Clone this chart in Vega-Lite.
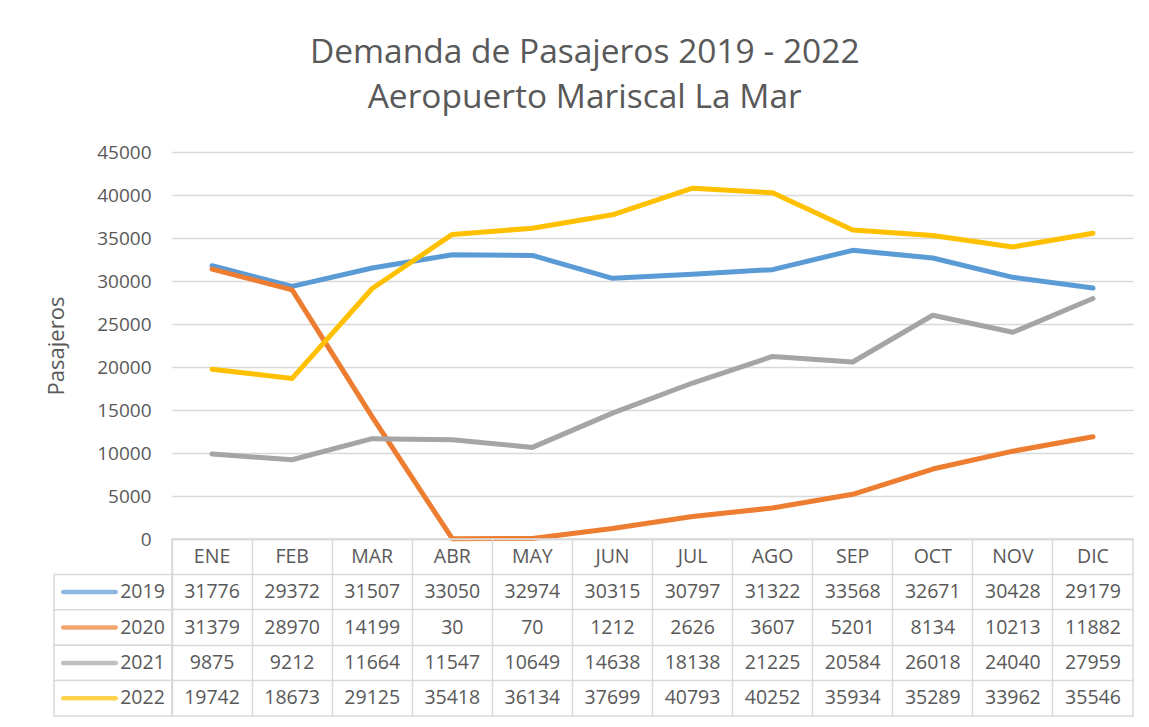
{
  "$schema": "https://vega.github.io/schema/vega-lite/v6.json",
  "padding": {"left": 45, "top": 35, "right": 17, "bottom": 5},
  "background": "white",
  "title": {
    "text": ["Demanda de Pasajeros 2019 - 2022", "Aeropuerto Mariscal La Mar"],
    "fontSize": 33.5, "lineHeight": 45, "font": "Open Sans", "fontWeight": "normal",
    "color": "#595959", "anchor": "middle", "offset": 28, "dx": -5
  },
  "datasets": {
    "pax": [
      {"anio": "2019", "mes": "ENE", "pasajeros": 31776},
      {"anio": "2019", "mes": "FEB", "pasajeros": 29372},
      {"anio": "2019", "mes": "MAR", "pasajeros": 31507},
      {"anio": "2019", "mes": "ABR", "pasajeros": 33050},
      {"anio": "2019", "mes": "MAY", "pasajeros": 32974},
      {"anio": "2019", "mes": "JUN", "pasajeros": 30315},
      {"anio": "2019", "mes": "JUL", "pasajeros": 30797},
      {"anio": "2019", "mes": "AGO", "pasajeros": 31322},
      {"anio": "2019", "mes": "SEP", "pasajeros": 33568},
      {"anio": "2019", "mes": "OCT", "pasajeros": 32671},
      {"anio": "2019", "mes": "NOV", "pasajeros": 30428},
      {"anio": "2019", "mes": "DIC", "pasajeros": 29179},
      {"anio": "2020", "mes": "ENE", "pasajeros": 31379},
      {"anio": "2020", "mes": "FEB", "pasajeros": 28970},
      {"anio": "2020", "mes": "MAR", "pasajeros": 14199},
      {"anio": "2020", "mes": "ABR", "pasajeros": 30},
      {"anio": "2020", "mes": "MAY", "pasajeros": 70},
      {"anio": "2020", "mes": "JUN", "pasajeros": 1212},
      {"anio": "2020", "mes": "JUL", "pasajeros": 2626},
      {"anio": "2020", "mes": "AGO", "pasajeros": 3607},
      {"anio": "2020", "mes": "SEP", "pasajeros": 5201},
      {"anio": "2020", "mes": "OCT", "pasajeros": 8134},
      {"anio": "2020", "mes": "NOV", "pasajeros": 10213},
      {"anio": "2020", "mes": "DIC", "pasajeros": 11882},
      {"anio": "2021", "mes": "ENE", "pasajeros": 9875},
      {"anio": "2021", "mes": "FEB", "pasajeros": 9212},
      {"anio": "2021", "mes": "MAR", "pasajeros": 11664},
      {"anio": "2021", "mes": "ABR", "pasajeros": 11547},
      {"anio": "2021", "mes": "MAY", "pasajeros": 10649},
      {"anio": "2021", "mes": "JUN", "pasajeros": 14638},
      {"anio": "2021", "mes": "JUL", "pasajeros": 18138},
      {"anio": "2021", "mes": "AGO", "pasajeros": 21225},
      {"anio": "2021", "mes": "SEP", "pasajeros": 20584},
      {"anio": "2021", "mes": "OCT", "pasajeros": 26018},
      {"anio": "2021", "mes": "NOV", "pasajeros": 24040},
      {"anio": "2021", "mes": "DIC", "pasajeros": 27959},
      {"anio": "2022", "mes": "ENE", "pasajeros": 19742},
      {"anio": "2022", "mes": "FEB", "pasajeros": 18673},
      {"anio": "2022", "mes": "MAR", "pasajeros": 29125},
      {"anio": "2022", "mes": "ABR", "pasajeros": 35418},
      {"anio": "2022", "mes": "MAY", "pasajeros": 36134},
      {"anio": "2022", "mes": "JUN", "pasajeros": 37699},
      {"anio": "2022", "mes": "JUL", "pasajeros": 40793},
      {"anio": "2022", "mes": "AGO", "pasajeros": 40252},
      {"anio": "2022", "mes": "SEP", "pasajeros": 35934},
      {"anio": "2022", "mes": "OCT", "pasajeros": 35289},
      {"anio": "2022", "mes": "NOV", "pasajeros": 33962},
      {"anio": "2022", "mes": "DIC", "pasajeros": 35546}
    ],
    "months": [
      {"mes": "ENE"}, {"mes": "FEB"}, {"mes": "MAR"}, {"mes": "ABR"}, {"mes": "MAY"}, {"mes": "JUN"},
      {"mes": "JUL"}, {"mes": "AGO"}, {"mes": "SEP"}, {"mes": "OCT"}, {"mes": "NOV"}, {"mes": "DIC"}
    ],
    "years": [
      {"anio": "2019"}, {"anio": "2020"}, {"anio": "2021"}, {"anio": "2022"}
    ]
  },
  "columns": 2,
  "spacing": 0,
  "bounds": "flush",
  "concat": [
    {
      "width": 118, "height": 387,
      "data": {"values": []},
      "mark": "point"
    },
    {
      "width": 961, "height": 387,
      "data": {"name": "pax"},
      "mark": {"type": "line", "strokeWidth": 5, "strokeCap": "round", "strokeJoin": "round"},
      "encoding": {
        "x": {
          "field": "mes", "type": "ordinal",
          "scale": {"domain": ["ENE","FEB","MAR","ABR","MAY","JUN","JUL","AGO","SEP","OCT","NOV","DIC"], "padding": 0.5},
          "axis": null
        },
        "y": {
          "field": "pasajeros", "type": "quantitative",
          "scale": {"domain": [0, 45000], "nice": false},
          "axis": {
            "title": "Pasajeros",
            "values": [0, 5000, 10000, 15000, 20000, 25000, 30000, 35000, 40000, 45000],
            "format": "d", "domain": false, "ticks": false,
            "labelPadding": 21, "labelFontSize": 19, "labelColor": "#595959",
            "titleFontSize": 22, "titleColor": "#595959", "titleFontWeight": "normal", "titlePadding": 28,
            "gridColor": "#d9d9d9", "gridWidth": 1.5
          }
        },
        "color": {
          "field": "anio", "type": "nominal",
          "scale": {"domain": ["2019","2020","2021","2022"], "range": ["#5B9BD5","#ED7D31","#A5A5A5","#FFC000"]},
          "legend": null
        },
        "order": {"value": null}
      }
    },
    {
      "width": 118, "height": 177,
      "data": {"name": "years"},
      "encoding": {
        "y": {
          "field": "anio", "type": "ordinal",
          "scale": {"type": "band", "domain": ["MES","2019","2020","2021","2022"], "paddingInner": 0, "paddingOuter": 0},
          "axis": null
        }
      },
      "layer": [
        {
          "mark": {"type": "rect", "fill": "white", "stroke": "#d9d9d9", "strokeWidth": 1.5}
        },
        {
          "mark": {"type": "tick", "orient": "horizontal", "size": 57, "thickness": 4.5, "cornerRadius": 2.25, "xOffset": 6},
          "encoding": {
            "x": {"datum": "sym", "type": "ordinal", "scale": {"type": "band", "domain": ["sym","yr"], "paddingInner": 0, "paddingOuter": 0}, "axis": null},
            "color": {
              "field": "anio", "type": "nominal",
              "scale": {"domain": ["2019","2020","2021","2022"], "range": ["#5B9BD5","#ED7D31","#A5A5A5","#FFC000"]},
              "legend": null
            }
          }
        },
        {
          "mark": {"type": "text", "fontSize": 19.5, "color": "#595959"},
          "encoding": {
            "x": {"datum": "yr", "type": "ordinal"},
            "text": {"field": "anio"}
          }
        }
      ]
    },
    {
      "width": 961, "height": 177,
      "view": {"stroke": "#d9d9d9", "strokeWidth": 1.5},
      "encoding": {
        "x": {
          "field": "mes", "type": "ordinal",
          "scale": {"type": "band", "domain": ["ENE","FEB","MAR","ABR","MAY","JUN","JUL","AGO","SEP","OCT","NOV","DIC"], "paddingInner": 0, "paddingOuter": 0},
          "axis": {"title": null, "labels": false, "ticks": false, "domain": false, "grid": true, "bandPosition": 0, "gridColor": "#d9d9d9", "gridWidth": 1.5}
        }
      },
      "layer": [
        {
          "data": {"name": "pax"},
          "mark": {"type": "text", "fontSize": 19.5, "color": "#595959"},
          "encoding": {
            "y": {
              "field": "anio", "type": "ordinal",
              "scale": {"type": "band", "domain": ["MES","2019","2020","2021","2022"], "paddingInner": 0, "paddingOuter": 0},
              "axis": {"title": null, "labels": false, "ticks": false, "domain": false, "grid": true, "bandPosition": 0, "gridColor": "#d9d9d9", "gridWidth": 1.5}
            },
            "text": {"field": "pasajeros", "type": "quantitative", "format": "d"}
          }
        },
        {
          "data": {"name": "months"},
          "mark": {"type": "text", "fontSize": 19.5, "color": "#595959"},
          "encoding": {
            "y": {"datum": "MES", "type": "ordinal"},
            "text": {"field": "mes"}
          }
        }
      ]
    }
  ],
  "config": {
    "view": {"stroke": null},
    "font": "Open Sans"
  }
}
